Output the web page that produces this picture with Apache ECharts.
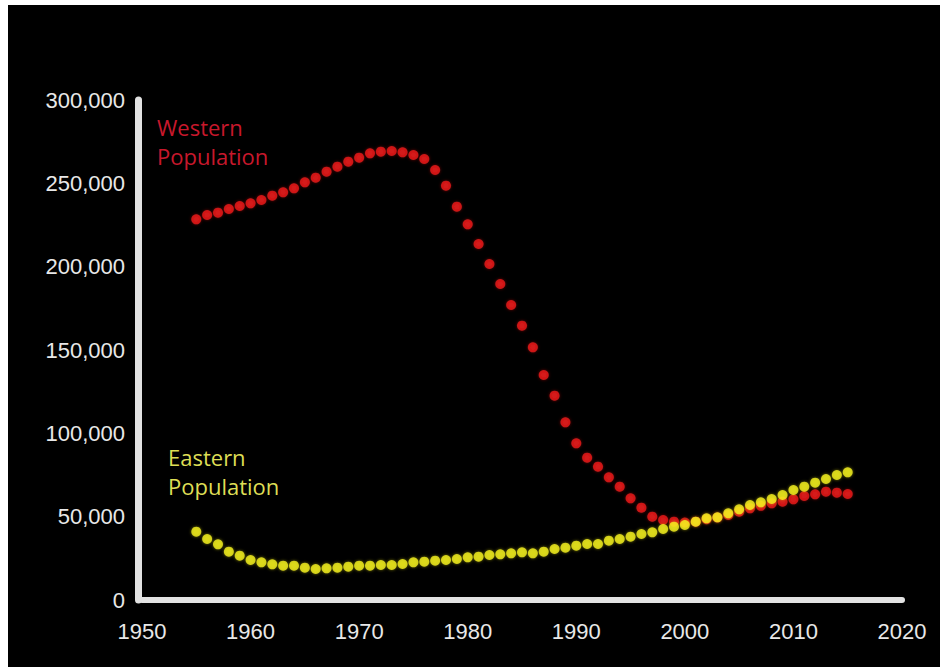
<!DOCTYPE html>
<html>
<head>
<meta charset="utf-8">
<script src="https://cdn.jsdelivr.net/npm/echarts@6/dist/echarts.min.js"></script>
<style>
  html, body { margin: 0; padding: 0; background: #ffffff; width: 940px; height: 667px; overflow: hidden; }
  #chart { position: absolute; left: 8px; top: 5px; width: 932px; height: 662px; background: #000; }
</style>
</head>
<body>
<div id="chart"></div>
<script>
const years = [
  1955,1956,1957,1958,1959,1960,1961,1962,1963,1964,
  1965,1966,1967,1968,1969,1970,1971,1972,1973,1974,
  1975,1976,1977,1978,1979,1980,1981,1982,1983,1984,
  1985,1986,1987,1988,1989,1990,1991,1992,1993,1994,
  1995,1996,1997,1998,1999,2000,2001,2002,2003,2004,
  2005,2006,2007,2008,2009,2010,2011,2012,2013,2014,2015
];
const western = [
  228400,231000,232400,234600,236400,238000,240000,242600,244600,247000,
  250600,253400,257000,260000,263000,265400,268000,269000,269400,268600,
  267000,264600,258000,248600,236000,225400,213600,201600,189600,177000,
  164600,151600,135000,122600,106600,94000,85400,80000,73600,68000,
  61000,55400,50000,48000,47000,46500,47000,48500,49500,51000,
  53000,55000,56500,58000,59000,60400,62400,63400,65000,64400,63600
];
const eastern = [
  41000,36600,33400,29000,26600,24000,22600,21400,20600,20600,
  19400,18600,19000,19400,20000,20600,20600,21000,21000,21600,
  22600,23000,23600,24000,24600,25600,26000,27000,27400,28000,
  28600,28000,29000,30600,31400,32600,33600,33600,35600,36600,
  38000,39600,40600,42600,44000,45000,47000,49000,49600,52000,
  54400,57000,58600,60600,63000,66000,68000,70400,72600,75000,76600
];
const xTicks = { min: 1950, max: 2020, step: 10 };
const yTicks = { min: 0, max: 300000, step: 50000 };
const seriesNames = ['Western Population', 'Eastern Population'];

const chart = echarts.init(document.getElementById('chart'), null, { renderer: 'svg' });

const axisFont = { color: '#e8e8e8', fontSize: 22, fontFamily: 'Liberation Sans, Arial, sans-serif' };
const labelFont = 'Open Sans, Lato, sans-serif';

chart.setOption({
  backgroundColor: '#000000',
  animation: false,
  grid: { left: 134, right: 38, top: 95, bottom: 67, containLabel: false },
  xAxis: {
    type: 'value',
    min: xTicks.min, max: xTicks.max, interval: xTicks.step,
    axisLine: { show: true, lineStyle: { color: '#e2e2e2', width: 6 } },
    axisTick: { show: false },
    splitLine: { show: false },
    axisLabel: Object.assign({ margin: 20, formatter: v => String(v) }, axisFont)
  },
  yAxis: {
    type: 'value',
    min: yTicks.min, max: yTicks.max, interval: yTicks.step,
    offset: 4,
    axisLine: { show: true, lineStyle: { color: '#e2e2e2', width: 7 } },
    axisTick: { show: false },
    splitLine: { show: false },
    axisLabel: Object.assign({ margin: 13, formatter: v => v.toLocaleString('en-US') }, axisFont)
  },
  series: [
    {
      name: seriesNames[0],
      type: 'scatter',
      symbol: 'circle',
      symbolSize: 10,
      itemStyle: { color: '#ee1a1a', shadowColor: 'rgba(238,26,26,0.6)', shadowBlur: 3 },
      data: years.map((y, i) => [y, western[i]]),
      z: 2
    },
    {
      name: seriesNames[1],
      type: 'scatter',
      symbol: 'circle',
      symbolSize: 10,
      itemStyle: { color: '#f6f21e', shadowColor: 'rgba(246,242,30,0.6)', shadowBlur: 3 },
      data: years.map((y, i) => [y, eastern[i]]),
      z: 3
    }
  ],
  graphic: [
    { type: 'text', left: 149, top: 111, style: { text: 'Western', fill: '#c8182c', font: '22px ' + labelFont } },
    { type: 'text', left: 149, top: 140, style: { text: 'Population', fill: '#c8182c', font: '22px ' + labelFont } },
    { type: 'text', left: 160, top: 441, style: { text: 'Eastern', fill: '#dede55', font: '22px ' + labelFont } },
    { type: 'text', left: 160, top: 470, style: { text: 'Population', fill: '#dede55', font: '22px ' + labelFont } }
  ]
});
</script>
</body>
</html>
